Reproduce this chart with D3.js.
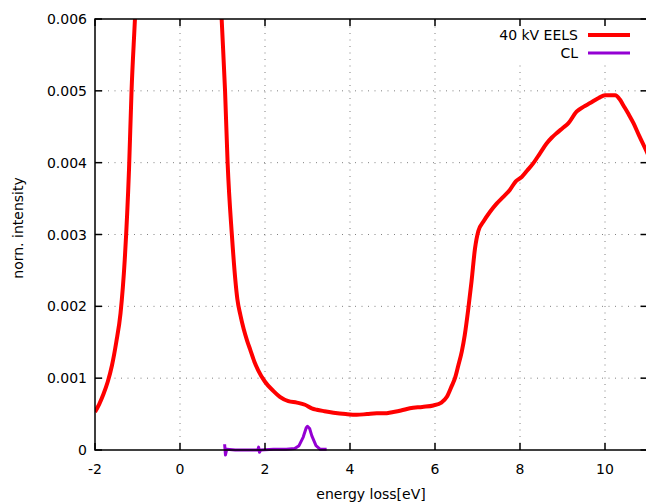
<!DOCTYPE html>
<html>
<head>
<meta charset="utf-8">
<script src="https://cdn.jsdelivr.net/npm/d3@7"></script>
<style>
  html, body { margin: 0; padding: 0; background: #fff; }
  svg { display: block; font-family: "DejaVu Sans", sans-serif; }
</style>
</head>
<body>
<div id="chart"></div>
<script>
// EELS spectrum (energy in eV, normalised intensity)
const eelsEnergy = [-2.0, -1.9, -1.8, -1.7, -1.6, -1.5, -1.4, -1.3, -1.2, -1.14, -1.06, -1.0, -0.9,
  0.9, 0.98, 1.06, 1.12, 1.22, 1.35, 1.42, 1.5, 1.58, 1.65, 1.75, 1.84, 2.0, 2.2, 2.35, 2.55, 2.75,
  2.94, 3.1, 3.22, 3.4, 3.61, 3.9, 4.16, 4.4, 4.63, 4.8, 5.02, 5.2, 5.41, 5.7, 5.96, 6.15, 6.28, 6.4,
  6.47, 6.55, 6.63, 6.7, 6.78, 6.86, 6.94, 7.02, 7.14, 7.3, 7.45, 7.6, 7.76, 7.9, 8.04, 8.17, 8.31,
  8.47, 8.63, 8.75, 8.86, 9.0, 9.14, 9.33, 9.5, 9.65, 9.85, 10.0, 10.24, 10.35, 10.43, 10.55, 10.67,
  10.8, 10.96, 11.1];
const eelsIntensity = [0.00053, 0.00064, 0.00078, 0.00095, 0.00118, 0.0015, 0.0019, 0.00265, 0.0039,
  0.005, 0.006, 0.0068, 0.0085,
  0.0071, 0.006, 0.005, 0.004, 0.003, 0.0021, 0.00188, 0.00168, 0.00152, 0.0014, 0.00123, 0.00111,
  0.00095, 0.00082, 0.00074, 0.00068, 0.00066, 0.00063, 0.00058, 0.00056, 0.00054, 0.00052, 0.0005,
  0.00049, 0.0005, 0.00051, 0.00051, 0.00053, 0.00055, 0.00058, 0.0006, 0.00062, 0.00066, 0.00074,
  0.0009, 0.001, 0.00118, 0.00137, 0.0016, 0.00195, 0.00235, 0.0028, 0.00305, 0.00318, 0.00332,
  0.00343, 0.00352, 0.00362, 0.00374, 0.0038, 0.00389, 0.00399, 0.00413, 0.00427, 0.00435, 0.00441,
  0.00448, 0.00455, 0.00471, 0.00478, 0.00483, 0.0049, 0.00494, 0.00494, 0.00488, 0.0048, 0.00468,
  0.00455, 0.00438, 0.00418, 0.004];

// cathodoluminescence spectrum
const clEnergy = [1.05, 1.07, 1.1, 1.3, 1.6, 1.83, 1.85, 1.87, 1.9, 2.2, 2.5, 2.7, 2.8, 2.9, 2.97,
  3.0, 3.05, 3.1, 3.2, 3.3, 3.45];
const clIntensity = [0.00008, -0.00007, 0.00001, 0.0, 0.0, 0.0, 0.00004, -0.00003, 0.0, 0.00001,
  0.00001, 0.00002, 0.00006, 0.00018, 0.00031, 0.00033, 0.0003, 0.0002, 0.00006, 0.00001, 0.00001];

const xTicks = [-2, 0, 2, 4, 6, 8, 10];
const yTicks = [0, 0.001, 0.002, 0.003, 0.004, 0.005, 0.006];
const yTickLabels = ['0', '0.001', '0.002', '0.003', '0.004', '0.005', '0.006'];

const seriesNames = ['40 kV EELS', 'CL'];
const seriesColors = ['#ff0000', '#9400d3'];

const width = 646, height = 502;
const plotLeft = 95, plotTop = 19, plotRight = 647.5, plotBottom = 450;

const svg = d3.select('#chart').append('svg')
  .attr('width', width).attr('height', height);

const x = d3.scaleLinear().domain([-2, 11]).range([plotLeft, plotRight]);
const y = d3.scaleLinear().domain([0, 0.006]).range([plotBottom, plotTop]);

// 그리드 (점선)
const grid = svg.append('g').attr('stroke', '#808080').attr('stroke-width', 1)
  .attr('stroke-dasharray', '1,5.5');
xTicks.filter(t => t > -2).forEach(t => {
  grid.append('line').attr('x1', x(t)).attr('x2', x(t)).attr('y1', plotBottom).attr('y2', plotTop);
});
yTicks.filter(t => t > 0 && t < 0.006).forEach(t => {
  grid.append('line').attr('x1', plotLeft).attr('x2', plotRight).attr('y1', y(t)).attr('y2', y(t));
});

// 범례 영역은 그리드를 가림
svg.append('rect').attr('x', 495).attr('y', plotTop + 1).attr('width', 160).attr('height', 43)
  .attr('fill', '#fff');

// 데이터 영역 클립
svg.append('defs').append('clipPath').attr('id', 'plot-clip')
  .append('rect').attr('x', plotLeft).attr('y', plotTop)
  .attr('width', plotRight - plotLeft).attr('height', plotBottom - plotTop + 12);

const line = d3.line().x(d => x(d[0])).y(d => y(d[1])).curve(d3.curveMonotoneX);

svg.append('path')
  .datum(d3.zip(eelsEnergy, eelsIntensity))
  .attr('d', line)
  .attr('fill', 'none')
  .attr('stroke', seriesColors[0])
  .attr('stroke-width', 4)
  .attr('stroke-linejoin', 'round')
  .attr('clip-path', 'url(#plot-clip)');

svg.append('path')
  .datum(d3.zip(clEnergy, clIntensity))
  .attr('d', d3.line().x(d => x(d[0])).y(d => y(d[1])))
  .attr('fill', 'none')
  .attr('stroke', seriesColors[1])
  .attr('stroke-width', 3)
  .attr('stroke-linejoin', 'round')
  .attr('clip-path', 'url(#plot-clip)');

// 테두리
svg.append('rect').attr('x', plotLeft).attr('y', plotTop)
  .attr('width', plotRight - plotLeft).attr('height', plotBottom - plotTop)
  .attr('fill', 'none').attr('stroke', '#000').attr('stroke-width', 1.5);

// 눈금 (안쪽, 위/오른쪽 미러)
const ticks = svg.append('g').attr('stroke', '#000').attr('stroke-width', 1.5);
xTicks.forEach(t => {
  ticks.append('line').attr('x1', x(t)).attr('x2', x(t)).attr('y1', plotBottom).attr('y2', plotBottom - 7);
  ticks.append('line').attr('x1', x(t)).attr('x2', x(t)).attr('y1', plotTop).attr('y2', plotTop + 7);
});
yTicks.forEach(t => {
  ticks.append('line').attr('x1', plotLeft).attr('x2', plotLeft + 7).attr('y1', y(t)).attr('y2', y(t));
  ticks.append('line').attr('x1', plotRight).attr('x2', plotRight - 7).attr('y1', y(t)).attr('y2', y(t));
});

// 눈금 라벨
svg.append('g').selectAll('text').data(xTicks).enter().append('text')
  .attr('x', d => x(d)).attr('y', 474)
  .attr('text-anchor', 'middle').attr('font-size', 14)
  .text(d => d);

svg.append('g').selectAll('text').data(yTicks).enter().append('text')
  .attr('x', 87).attr('y', d => y(d) + 5)
  .attr('text-anchor', 'end').attr('font-size', 14)
  .text((d, i) => yTickLabels[i]);

// 축 제목
svg.append('text').attr('x', 371).attr('y', 499).attr('text-anchor', 'middle')
  .attr('font-size', 14).text('energy loss[eV]');
svg.append('text').attr('transform', 'translate(23,228) rotate(-90)').attr('text-anchor', 'middle')
  .attr('font-size', 14).text('norn. intensity');

// 범례
seriesNames.forEach((name, i) => {
  const ly = 35 + i * 18;
  svg.append('text').attr('x', 578).attr('y', ly + 5).attr('text-anchor', 'end')
    .attr('font-size', 14).text(name);
  svg.append('line').attr('x1', 588).attr('x2', 630).attr('y1', ly).attr('y2', ly)
    .attr('stroke', seriesColors[i]).attr('stroke-width', i === 0 ? 4 : 3);
});
</script>
</body>
</html>
